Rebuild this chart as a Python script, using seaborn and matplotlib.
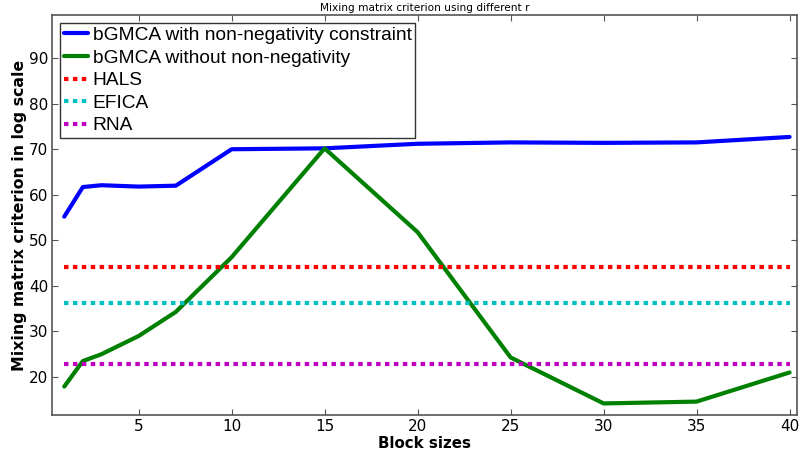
import matplotlib
matplotlib.use("Agg")
import matplotlib.pyplot as plt
import seaborn as sns
import pandas as pd

# ---- data ----
block_sizes = [1, 2, 3, 5, 7, 10, 15, 20, 25, 30, 35, 40]
bgmca_nonneg = [55.2, 61.7, 62.1, 61.8, 62.0, 70.0, 70.2, 71.2, 71.5, 71.4, 71.5, 72.7]
bgmca_free = [17.9, 23.5, 25.0, 29.0, 34.3, 46.3, 70.2, 51.8, 24.3, 14.2, 14.6, 21.0]
hals_value = 44.1
efica_value = 36.3
rna_value = 22.8
xticks = [5, 10, 15, 20, 25, 30, 35, 40]
yticks = [20, 30, 40, 50, 60, 70, 80, 90]

sns.set_style("ticks")
plt.rcParams["font.family"] = ["DejaVu Sans"]
plt.rcParams["text.color"] = "black"
plt.rcParams["axes.labelcolor"] = "black"

fig = plt.figure(figsize=(7.99, 4.57), dpi=100)
ax = fig.add_axes([0.0655, 0.0919, 0.932, 0.8746])

sns.lineplot(x=block_sizes, y=bgmca_nonneg, ax=ax, color=(0, 0, 1), lw=3,
             label="bGMCA with non-negativity constraint")
sns.lineplot(x=block_sizes, y=bgmca_free, ax=ax, color=(0, 0.5, 0), lw=3,
             label="bGMCA without non-negativity")

x_ends = [block_sizes[0], block_sizes[-1]]
for val, col, name in [(hals_value, (1, 0, 0), "HALS"),
                       (efica_value, (0, 0.75, 0.75), "EFICA"),
                       (rna_value, (0.75, 0, 0.75), "RNA")]:
    sns.lineplot(x=x_ends, y=[val, val], ax=ax, color=col, lw=3, label=name,
                 dashes=False)
    ax.lines[-1].set_dashes((1.07, 1.07))

ax.set_xlim(0.36, 40.4)
ax.set_ylim(11.66, 99.4)
ax.set_xticks(xticks)
ax.set_yticks(yticks)
ax.tick_params(direction="in", length=4, width=0.8, color="#555555",
               labelsize=11, top=True, right=True, labelcolor="black", pad=2.8)
for sp in ax.spines.values():
    sp.set_visible(True)
    sp.set_color("#555555")
    sp.set_linewidth(1.2)

ax.set_xlabel("Block sizes", fontsize=10.8, fontweight="bold", labelpad=1.5)
ax.set_ylabel("Mixing matrix criterion in log scale", fontsize=11.3,
              fontweight="bold", labelpad=1.8)
ax.set_title("Mixing matrix criterion using different r", fontsize=7.6, pad=3)

leg = ax.legend(loc="upper left", fancybox=False, framealpha=1,
                edgecolor="#333333", handlelength=1.26, handletextpad=0.25,
                borderpad=0.2, labelspacing=0.27, borderaxespad=0.4,
                prop={"family": "Liberation Sans", "size": 13.75})
leg.get_frame().set_linewidth(1.0)
for h in leg.get_lines():
    h.set_linewidth(3)
leg.get_lines()[2].set_dashes((1.07, 1.07))
leg.get_lines()[3].set_dashes((1.07, 1.07))
leg.get_lines()[4].set_dashes((1.07, 1.07))

fig.savefig("out.png", dpi=100)
